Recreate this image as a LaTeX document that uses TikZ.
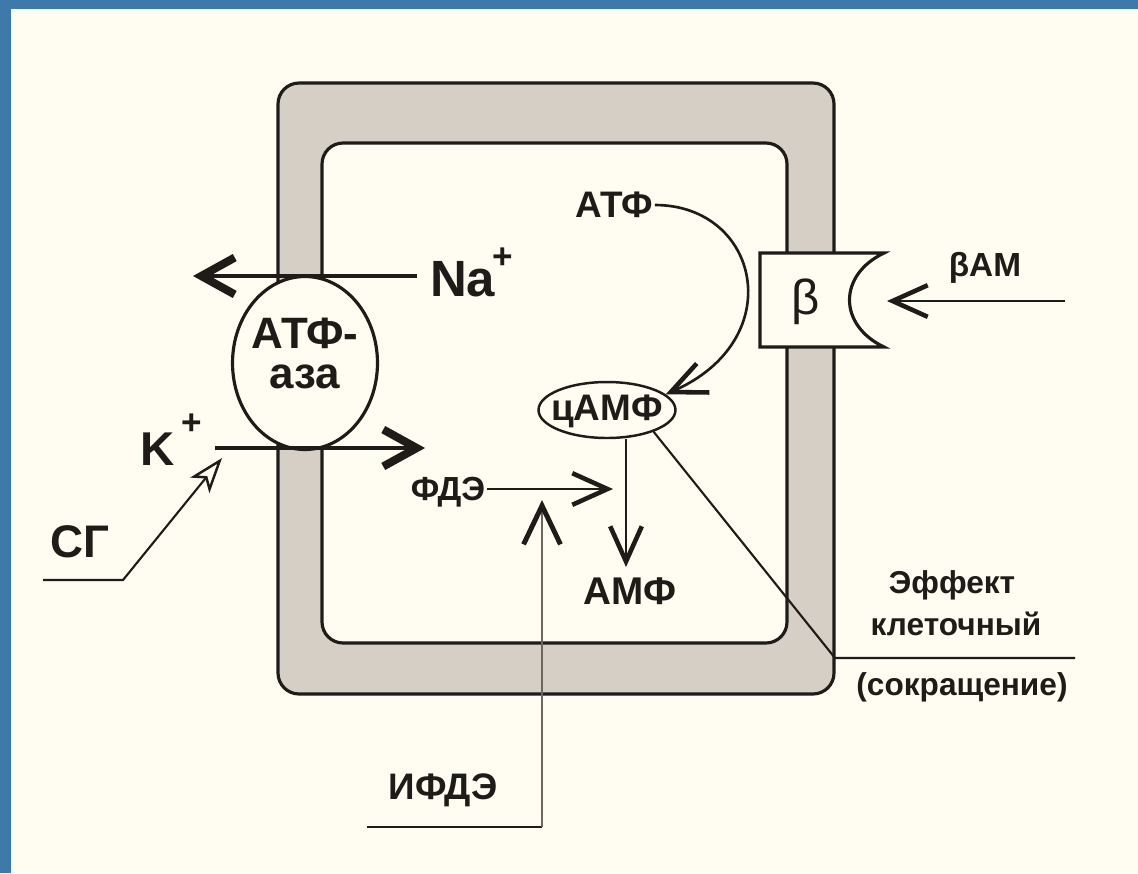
\documentclass[tikz,border=0pt]{standalone}
\usepackage{fontspec}
\setmainfont{Liberation Sans}
\usetikzlibrary{arrows.meta,shapes.geometric}
\definecolor{bg}{HTML}{FFFDF2}
\definecolor{frameblue}{HTML}{3F79AA}
\definecolor{memb}{HTML}{D5CFC5}
\definecolor{ink}{HTML}{1E1B18}
\definecolor{grayline}{HTML}{6E655C}
\tikzset{
  lbl/.style={font=\bfseries\fontsize{#1}{#1}\selectfont, inner sep=1pt, text=ink},
  memline/.style={draw=ink, line width=1.8pt},
  bigarrow/.style={draw=ink, line width=2.4pt, -{Straight Barb[length=19pt,width=21pt,line width=4.6pt]}},
  thinarrow/.style={draw=ink, line width=1.2pt, -{Straight Barb[length=20pt,width=18pt,line width=2.6pt]}},
  thinline/.style={draw=ink, line width=1.2pt},
}
\begin{document}
\begin{tikzpicture}[x=0.02cm,y=-0.02cm]
\useasboundingbox (0,0) rectangle (1138,873);
\fill[bg] (0,0) rectangle (1138,873);
\fill[frameblue] (0,0) rectangle (1138,9);
\fill[frameblue] (0,0) rectangle (11,873);

% membrane
\draw[memline, fill=memb, rounded corners=12pt] (278,83) rectangle (834,694);
\draw[memline, fill=bg, rounded corners=12pt] (322,143) rectangle (787,643);

% receptor beta
\draw[memline, fill=bg] (760,253) -- (884,253)
  .. controls (838,275) and (838,325) .. (884,347) -- (760,347) -- cycle;
\node[font=\fontsize{28}{28}\selectfont, text=ink, inner sep=1pt] (beta) at (806,302) {β};

% ATPase
\node[ellipse, memline, fill=bg, minimum width=2.9cm, minimum height=3.46cm, inner sep=0pt] (atpase) at (305,363) {};
\node[lbl=25] (atf1) at (305,333) {АТФ-};
\node[lbl=25] (aza) at (305,377) {аза};

% Na+
\node[lbl=29, anchor=west] (na) at (428,279) {Na};
\node[lbl=20] (naplus) at (503,258) {+};
\coordinate (naStart) at (417,276);
\coordinate (naTip) at (193,276);
\draw[bigarrow] (naStart) -- (naTip);

% K+
\node[lbl=27] (k) at (158,449) {K};
\node[lbl=20] (kplus) at (192,424) {+};
\coordinate (kStart) at (215,448);
\coordinate (kTip) at (425,448);
\draw[bigarrow] (kStart) -- (kTip);

% SG
\node[lbl=26] (sg) at (80,542) {СГ};
\coordinate (sgStart) at (43,580);
\coordinate (sgBend) at (123,580);
\coordinate (sgTip) at (222,458);
\draw[thinline, -{Stealth[open,length=20pt,width=14pt,inset=5pt,line width=1.4pt]}] (sgStart) -- (sgBend) -- (sgTip);

% ATP -> cAMP
\node[lbl=21] (atf) at (614,205) {АТФ};
\node[ellipse, draw=ink, line width=1.4pt, fill=bg, minimum width=2.74cm, minimum height=1.12cm, inner sep=0pt] (camp) at (607,410) {};
\node[lbl=21] (camptext) at (607,411) {цАМФ};
\draw[thinarrow, line width=1.5pt] (atf.east) .. controls (760,205) and (790,340) .. (camp.15);

% cAMP -> AMP
\node[lbl=22] (amf) at (630,591) {АМФ};
\draw[thinarrow] (camp.south -| 626,0) -- (626,567);

% FDE
\node[lbl=19] (fde) at (448,492) {ФДЭ};
\coordinate (fdeTip) at (613,489);
\draw[thinarrow] (fde.east |- fdeTip) -- (fdeTip);

% IFDE
\node[lbl=21] (ifde) at (443,790) {ИФДЭ};
\coordinate (ifdeStart) at (367,827);
\coordinate (ifdeBend) at (542,827);
\coordinate (ifdeTip) at (542,500);
\draw[thinline, line width=1.5pt] (ifdeStart) -- (ifdeBend);
\draw[draw=grayline, line width=1.4pt, -{Straight Barb[length=22pt,width=21pt,line width=2.8pt,color=ink]}] (ifdeBend) -- (ifdeTip);

% bAM
\node[lbl=19, anchor=base] (bam) at (985,276) {βАМ};
\coordinate (bamStart) at (1065,301);
\coordinate (bamTip) at (887,301);
\draw[thinarrow] (bamStart) -- (bamTip);

% effect
\coordinate (effBend) at (835,658);
\coordinate (effEnd) at (1075,658);
\draw[thinline] (camp.-25) -- (effBend) -- (effEnd);
\node[lbl=18, anchor=base] (eff1) at (952,593) {Эффект};
\node[lbl=18, anchor=base] (eff2) at (956,635) {клеточный};
\node[lbl=18, anchor=base] (eff3) at (962,695) {(сокращение)};
\end{tikzpicture}
\end{document}
